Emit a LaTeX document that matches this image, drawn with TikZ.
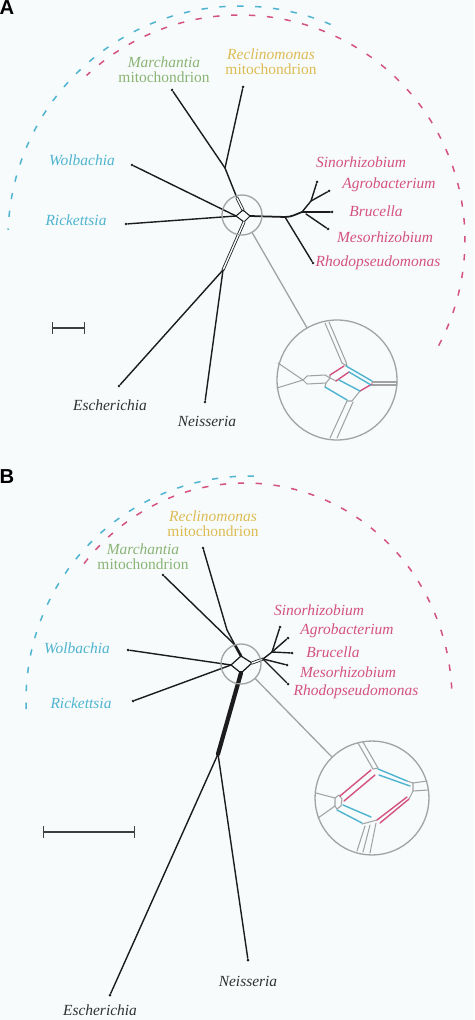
\documentclass[tikz,border=0pt]{standalone}
\usepackage{fontspec}
\setmainfont{Liberation Serif}
\setsansfont{Liberation Sans}
\usetikzlibrary{positioning}
\definecolor{bgcol}{RGB}{247,251,252}
\definecolor{treeblack}{RGB}{28,28,28}
\definecolor{lensgray}{RGB}{163,163,163}
\definecolor{splitblue}{RGB}{78,180,207}
\definecolor{splitpink}{RGB}{212,82,126}
\definecolor{taxgreen}{RGB}{138,180,118}
\definecolor{taxyellow}{RGB}{220,188,82}
\definecolor{taxdark}{RGB}{48,48,48}

\begin{document}
\begin{tikzpicture}[x=0.02cm, y=-0.02cm, line cap=round, line join=round,
  every node/.style = {inner sep=0pt, font=\fontsize{8.8}{8.6}\selectfont},
  taxon/.style = {align=center, font=\fontsize{8.8}{8.6}\selectfont\itshape},
  leafdot/.style = {circle, fill=treeblack, minimum size=1.7pt},
  treeline/.style = {draw=treeblack, line width=0.8pt},
  twinline/.style = {draw=treeblack, line width=0.45pt, double=bgcol, double distance=0.8pt},
  lensring/.style = {circle, draw=lensgray, line width=0.75pt},
  lensline/.style = {draw=lensgray, line width=0.75pt},
  netline/.style = {draw=lensgray, line width=0.6pt},
  pinksplit/.style = {draw=splitpink, line width=0.8pt},
  bluesplit/.style = {draw=splitblue, line width=0.8pt},
  arcdash/.style = {line width=0.85pt, dash pattern=on 3.6pt off 6.6pt, line cap=butt},
  scalebar/.style = {draw=treeblack!85, line width=0.7pt, |-|},
  panellabel/.style = {font=\fontsize{11.5}{12}\selectfont\sffamily\bfseries}]
  \fill[bgcol] (0,0) rectangle (474,1020);
  \useasboundingbox (0,0) rectangle (474,1020);

  % panel A
  \node[panellabel] (labA) at (7,8) {A};
  \draw[arcdash, splitblue, domain=67:178, samples=90] plot ({240+232*cos(\x)}, {238-232*sin(\x)});
  \draw[arcdash, splitpink, domain=-28:133, samples=90] plot ({240+225*cos(\x)}, {240-225*sin(\x)});

  \node[taxon, text=taxgreen] (marA) at (164,70) {Marchantia\\\upshape mitochondrion};
  \node[taxon, text=taxyellow] (recA) at (271,62) {Reclinomonas\\\upshape mitochondrion};
  \node[taxon, text=splitblue] (wolA) at (82,160) {Wolbachia};
  \node[taxon, text=splitblue] (ricA) at (76,220) {Rickettsia};
  \node[taxon, text=splitpink] (sinA) at (361,162) {Sinorhizobium};
  \node[taxon, text=splitpink] (agrA) at (389,185) {Agrobacterium};
  \node[taxon, text=splitpink] (bruA) at (376,211) {Brucella};
  \node[taxon, text=splitpink] (mesA) at (385,237) {Mesorhizobium};
  \node[taxon, text=splitpink] (rhoA) at (378,263) {Rhodopseudomonas};
  \node[taxon, text=taxdark] (escA) at (110,405) {Escherichia};
  \node[taxon, text=taxdark] (neiA) at (207,421) {Neisseria};

  \node[leafdot] (tMarA) at (172,90) {};
  \node[leafdot] (tRecA) at (243,87) {};
  \node[leafdot] (tWolA) at (132,165) {};
  \node[leafdot] (tRicA) at (126,224) {};
  \node[leafdot] (tSinA) at (317,182) {};
  \node[leafdot] (tAgrA) at (329,191) {};
  \node[leafdot] (tBruA) at (332,212) {};
  \node[leafdot] (tMesA) at (328,229) {};
  \node[leafdot] (tRhoA) at (313,263) {};
  \node[leafdot] (tEscA) at (119,386) {};
  \node[leafdot] (tNeiA) at (205,402) {};

  \coordinate (jMRA) at (225,168);
  \coordinate (jUpA) at (237,198);
  \coordinate (nTA) at (243,210);
  \coordinate (nRA) at (250,216);
  \coordinate (nBA) at (244,222);
  \coordinate (nLA) at (236,216);
  \coordinate (jRhA) at (285,217);
  \coordinate (jA2) at (302,212);
  \coordinate (jSA) at (311,201);
  \coordinate (jMeA) at (306,214);
  \coordinate (jENA) at (223,270);

  \draw[treeline] (tMarA) -- (jMRA) -- (jUpA);
  \draw[treeline] (tRecA) -- (jMRA);
  \draw[twinline] (jUpA) -- (nTA);
  \draw[treeline, line width=0.6pt] (nTA) -- (nRA) -- (nBA) -- (nLA) -- cycle;
  \draw[treeline] (tWolA) -- (nLA);
  \draw[treeline] (tRicA) -- (nLA);
  \draw[treeline, line width=1pt] (nRA) -- (jRhA) to[out=0, in=200] (jA2);
  \draw[treeline] (jRhA) -- (tRhoA);
  \draw[treeline] (jA2) -- (jSA) -- (tSinA);
  \draw[treeline] (jSA) -- (tAgrA);
  \draw[treeline] (jA2) -- (tBruA);
  \draw[treeline] (jMeA) -- (tMesA);
  \draw[twinline] (nBA) -- (jENA);
  \draw[treeline] (jENA) -- (tEscA);
  \draw[treeline] (jENA) -- (tNeiA);

  \coordinate (barA1) at (52,328);
  \coordinate (barA2) at (85,328);
  \draw[scalebar] (barA1) -- (barA2);

  \node[lensring, minimum size=0.8cm] (lensA) at (242,215) {};
  \node[lensring, minimum size=2.4cm] (zoomA) at (337,380) {};
  \draw[lensline] (lensA) -- (zoomA);

  \draw[netline] (325,323) -- (342,363) (329,322) -- (346,362);
  \draw[netline] (342,363) -- (347,366) (346,362) -- (347,366);
  \draw[netline] (372,382) -- (397,382) (371,385) -- (397,385);
  \draw[netline] (347,401) -- (330,438) (353,402) -- (337,438);
  \draw[netline] (360,391) -- (352,401) (347,401) -- (352,401);
  \draw[netline] (278,363) -- (303,380) (277,388) -- (303,380);
  \draw[netline] (303,380) -- (307,376) -- (325,375) -- (330,378) -- (326,383) -- (307,384) -- cycle;
  \draw[netline] (330,378) -- (330,375) (326,383) -- (325,387) (330,378) -- (336,381);
  \draw[pinksplit] (330,375) -- (344,366) (336,381) -- (349,372) (360,391) -- (372,384);
  \draw[bluesplit] (346,366) -- (372,381) (349,372) -- (371,385);
  \draw[bluesplit] (325,387) -- (347,400) (339,380) -- (360,391);

  % panel B
  \node[panellabel] (labB) at (7,477) {B};
  \draw[arcdash, splitblue, domain=89:184, samples=90] plot ({250+224*cos(\x)}, {700-224*sin(\x)});
  \draw[arcdash, splitpink, domain=3:142, samples=90] plot ({245+207*cos(\x)}, {700-217*sin(\x)});

  \node[taxon, text=taxyellow] (recB) at (213,524) {Reclinomonas\\\upshape mitochondrion};
  \node[taxon, text=taxgreen] (marB) at (143,557) {Marchantia\\\upshape mitochondrion};
  \node[taxon, text=splitblue] (wolB) at (77,648) {Wolbachia};
  \node[taxon, text=splitblue] (ricB) at (81,703) {Rickettsia};
  \node[taxon, text=splitpink] (sinB) at (319,610) {Sinorhizobium};
  \node[taxon, text=splitpink] (agrB) at (347,631) {Agrobacterium};
  \node[taxon, text=splitpink] (bruB) at (333,652) {Brucella};
  \node[taxon, text=splitpink] (mesB) at (348,672) {Mesorhizobium};
  \node[taxon, text=splitpink] (rhoB) at (356,692) {Rhodopseudomonas};
  \node[taxon, text=taxdark] (neiB) at (248,981) {Neisseria};
  \node[taxon, text=taxdark, anchor=south] (escB) at (100,1016) {Escherichia};

  \node[leafdot] (tRecB) at (203,548) {};
  \node[leafdot] (tMarB) at (163,575) {};
  \node[leafdot] (tWolB) at (128,650) {};
  \node[leafdot] (tRicB) at (133,701) {};
  \node[leafdot] (tSinB) at (280,627) {};
  \node[leafdot] (tAgrB) at (288,638) {};
  \node[leafdot] (tBruB) at (292,653) {};
  \node[leafdot] (tMesB) at (287,665) {};
  \node[leafdot] (tRhoB) at (288,684) {};
  \node[leafdot] (tNeiB) at (248,960) {};
  \node[leafdot] (tEscB) at (110,995) {};

  \coordinate (jRecB) at (227,630);
  \coordinate (jMRB) at (235,645);
  \coordinate (nTB) at (241,656);
  \coordinate (nRB) at (252,663);
  \coordinate (nBB) at (241,673);
  \coordinate (nLB) at (231,665);
  \coordinate (jB1) at (263,659);
  \coordinate (jB2) at (272,652);
  \coordinate (jENB) at (218,754);

  \draw[treeline] (tRecB) -- (jRecB) -- (jMRB);
  \draw[treeline] (tMarB) -- (jMRB);
  \draw[treeline, line width=1.5pt] (jMRB) -- (nTB);
  \draw[treeline, line width=0.7pt] (nTB) -- (nRB) -- (nBB) -- (nLB) -- cycle;
  \draw[treeline] (tWolB) -- (nLB);
  \draw[treeline] (tRicB) -- (nLB);
  \draw[twinline] (nRB) -- (jB1);
  \draw[treeline] (jB1) -- (jB2);
  \draw[treeline] (jB1) -- (tRhoB);
  \draw[treeline] (jB1) -- (tMesB);
  \draw[treeline] (jB2) -- (tBruB);
  \draw[treeline] (jB2) -- (tAgrB);
  \draw[treeline] (jB2) -- (tSinB);
  \draw[treeline, line width=2.4pt] (nBB) -- (jENB);
  \draw[treeline] (jENB) -- (tEscB);
  \draw[treeline] (jENB) -- (tNeiB);

  \coordinate (barB1) at (43,832);
  \coordinate (barB2) at (135,832);
  \draw[scalebar] (barB1) -- (barB2);

  \node[lensring, minimum size=0.8cm] (lensB) at (241,664) {};
  \node[lensring, minimum size=2.28cm] (zoomB) at (372,798) {};
  \draw[lensline] (lensB) -- (zoomB);

  \draw[netline] (358,743) -- (373,769) (363,742) -- (378,768);
  \draw[netline] (373,769) -- (378,768);
  \draw[netline] (407,781) -- (413,783) -- (413,791) -- (409,799);
  \draw[netline] (413,783) -- (427,781) (413,791) -- (428,790);
  \draw[netline] (365,826) -- (357,851) (370,825) -- (363,852) (376,823) -- (370,853);
  \draw[netline] (316,793) -- (335,798) (318,818) -- (335,806);
  \draw[netline] (335,798) -- (339,795) -- (342,799) -- (341,806) -- (337,809) -- (335,806) -- cycle;
  \draw[netline] (362,824) -- (377,820);
  \draw[pinksplit] (340,796) -- (371,770) (344,801) -- (375,775);
  \draw[bluesplit] (378,769) -- (407,781) (379,775) -- (410,786);
  \draw[bluesplit] (337,810) -- (362,823) (343,805) -- (371,817);
  \draw[pinksplit] (377,820) -- (407,797) (380,823) -- (409,799);
\end{tikzpicture}
\end{document}
